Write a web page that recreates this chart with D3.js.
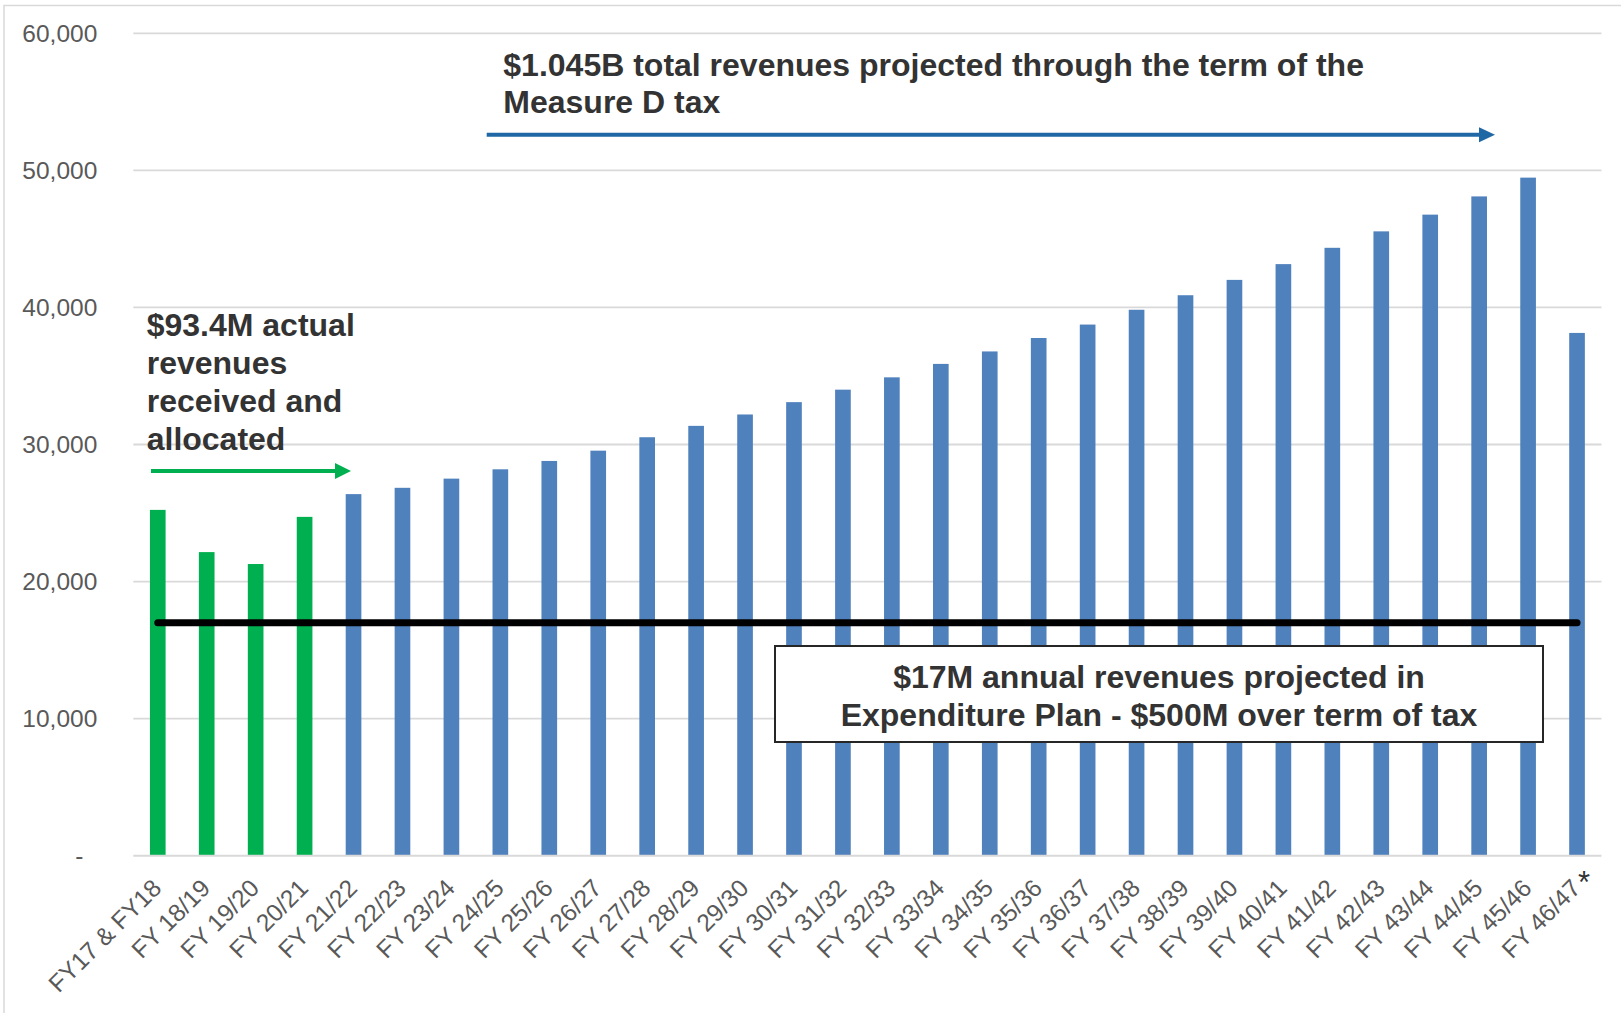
<!DOCTYPE html>
<html>
<head>
<meta charset="utf-8">
<script src="https://cdn.jsdelivr.net/npm/d3@7"></script>
<style>
  html, body { margin: 0; padding: 0; background: #fff; }
  svg { display: block; }
  text { font-family: "Liberation Sans", Arial, sans-serif; }
</style>
</head>
<body>
<svg id="chart" width="1621" height="1013"></svg>
<script>
// ---------------- data ----------------
const categories = ["FY17 & FY18","FY 18/19","FY 19/20","FY 20/21","FY 21/22","FY 22/23","FY 23/24",
  "FY 24/25","FY 25/26","FY 26/27","FY 27/28","FY 28/29","FY 29/30","FY 30/31","FY 31/32","FY 32/33",
  "FY 33/34","FY 34/35","FY 35/36","FY 36/37","FY 37/38","FY 38/39","FY 39/40","FY 40/41","FY 41/42",
  "FY 42/43","FY 43/44","FY 44/45","FY 45/46","FY 46/47"];
const revenues = [25230, 22150, 21280, 24720, 26380, 26840, 27510, 28190, 28800, 29550, 30530, 31360,
  32190, 33090, 34000, 34900, 35880, 36790, 37770, 38750, 39830, 40890, 42010, 43160, 44350, 45550,
  46770, 48100, 49470, 38140];
const status = ["actual","actual","actual","actual"].concat(new Array(26).fill("projected"));
const yTicks = [0, 10000, 20000, 30000, 40000, 50000, 60000];
const planAnnual = 17000;
const annotTop = ["$1.045B total revenues projected through the term of the", "Measure D tax"];
const annotActual = ["$93.4M actual", "revenues", "received and", "allocated"];
const annotPlan = ["$17M annual revenues projected in", "Expenditure Plan - $500M over term of tax"];

// ---------------- layout ----------------
const svg = d3.select("#chart");
const plotL = 133.3, plotR = 1601.5, plotT = 33.3, plotB = 855.7;
const colors = { actual: "#00b050", projected: "#4f81bd" };
const textDark = "#333333", tickGray = "#595959", gridGray = "#d9d9d9";

const x = d3.scaleBand().domain(categories).range([plotL, plotR]).paddingInner(0.68).paddingOuter(0.34);
const y = d3.scaleLinear().domain([0, 60000]).range([plotB, plotT]);

// outer chart border (left & top visible)
svg.append("rect").attr("x", 4).attr("y", 5.5).attr("width", 1800).attr("height", 1200)
  .attr("fill", "none").attr("stroke", gridGray).attr("stroke-width", 1.5);

// gridlines
svg.append("g").selectAll("line").data(yTicks.filter(d => d > 0)).join("line")
  .attr("x1", plotL).attr("x2", plotR).attr("y1", d => y(d)).attr("y2", d => y(d))
  .attr("stroke", gridGray).attr("stroke-width", 1.8);

// y axis labels
const yAxis = d3.axisLeft(y).tickValues(yTicks).tickSize(0).tickPadding(36)
  .tickFormat(d => d === 0 ? "-" : d3.format(",")(d));
const yg = svg.append("g").attr("transform", `translate(${plotL},0)`).call(yAxis);
yg.select(".domain").remove();
yg.selectAll("text").attr("fill", tickGray).attr("font-size", 24.5)
  .attr("dx", d => d === 0 ? -14 : 0);

// bars
svg.append("g").selectAll("rect").data(categories).join("rect")
  .attr("x", d => x(d)).attr("width", x.bandwidth())
  .attr("y", (d, i) => y(revenues[i])).attr("height", (d, i) => y(0) - y(revenues[i]))
  .attr("fill", (d, i) => colors[status[i]]);

// x axis baseline + labels
const xAxis = d3.axisBottom(x).tickSize(0);
const xg = svg.append("g").attr("transform", `translate(0,${plotB})`).call(xAxis);
xg.select(".domain").attr("stroke", gridGray).attr("stroke-width", 2)
  .attr("d", `M${plotL},0H${plotR}`);
xg.selectAll("text").attr("fill", tickGray).attr("font-size", 24.5)
  .attr("text-anchor", "end").attr("x", 0).attr("y", 0).attr("dy", null)
  .attr("transform", "translate(5,34) rotate(-45)");

// asterisk note on last label
const lastC = x(categories[categories.length - 1]) + x.bandwidth() / 2;
svg.append("text").attr("x", lastC + 1).attr("y", 893).attr("font-size", 31)
  .attr("fill", textDark).text("*");

// horizontal plan line (17,000)
const firstC = x(categories[0]) + x.bandwidth() / 2;
svg.append("line").attr("x1", firstC).attr("x2", lastC).attr("y1", y(planAnnual)).attr("y2", y(planAnnual))
  .attr("stroke", "#000").attr("stroke-width", 7).attr("stroke-linecap", "round");

// plan box
svg.append("rect").attr("x", 775).attr("y", 646).attr("width", 768).attr("height", 96)
  .attr("fill", "#fff").attr("stroke", "#262626").attr("stroke-width", 2);
svg.append("g").selectAll("text").data(annotPlan).join("text")
  .attr("x", 1159).attr("y", (d, i) => 687.5 + i * 38).attr("text-anchor", "middle")
  .attr("font-size", 32).attr("font-weight", "bold").attr("fill", textDark).text(d => d);

// arrows
function arrow(x1, x2, yy, color, w, headLen, headHalf) {
  svg.append("line").attr("x1", x1).attr("x2", x2 - headLen + 1).attr("y1", yy).attr("y2", yy)
    .attr("stroke", color).attr("stroke-width", w);
  svg.append("path").attr("d", `M${x2},${yy}L${x2 - headLen},${yy - headHalf}L${x2 - headLen},${yy + headHalf}Z`)
    .attr("fill", color);
}
arrow(486.7, 1495, 134.7, "#1f67a5", 4, 16, 7.5);
arrow(151, 351, 471, "#00b050", 4, 16, 8);

// annotations
svg.append("g").selectAll("text").data(annotTop).join("text")
  .attr("x", 503.3).attr("y", (d, i) => 75.5 + i * 37.5)
  .attr("font-size", 32).attr("font-weight", "bold").attr("fill", textDark).text(d => d);
svg.append("g").selectAll("text").data(annotActual).join("text")
  .attr("x", 146.7).attr("y", (d, i) => 335.5 + i * 38)
  .attr("font-size", 32).attr("font-weight", "bold").attr("fill", textDark).text(d => d);
</script>
</body>
</html>
